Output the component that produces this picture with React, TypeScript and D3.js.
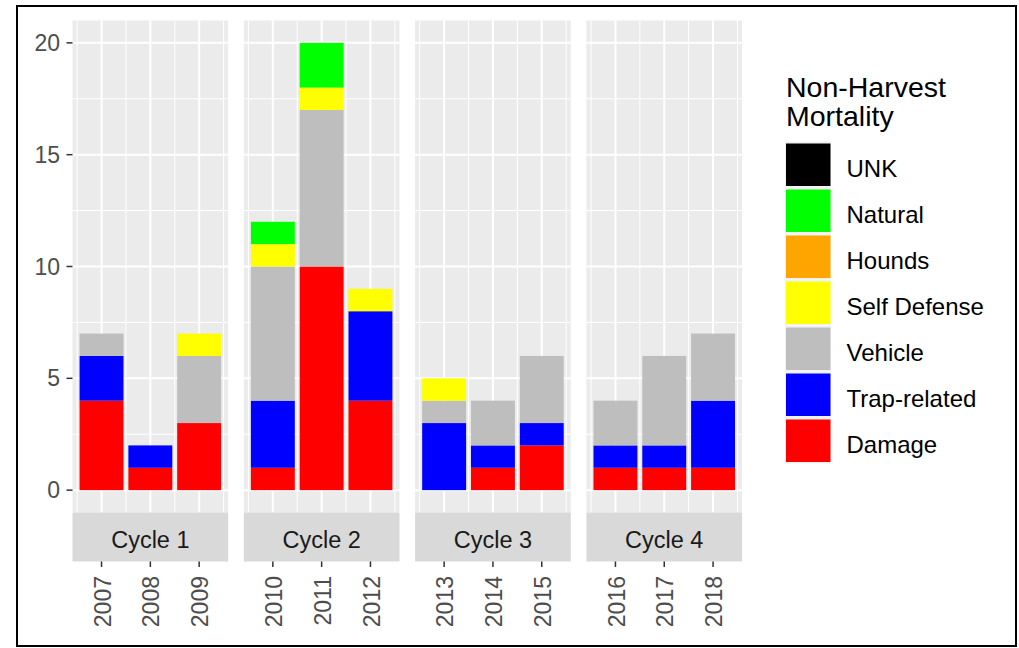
import React from "react";
import * as d3 from "d3";

const cycles = ["Cycle 1", "Cycle 2", "Cycle 3", "Cycle 4"];
const years = [2007, 2008, 2009, 2010, 2011, 2012, 2013, 2014, 2015, 2016, 2017, 2018];
const yearCycle = [0, 0, 0, 1, 1, 1, 2, 2, 2, 3, 3, 3];

// stack order: bottom first
const categories = ["Damage", "Trap-related", "Vehicle", "Self Defense", "Hounds", "Natural", "UNK"];
const colors = ["#FF0000", "#0000FF", "#BEBEBE", "#FFFF00", "#FFA500", "#00FF00", "#000000"];

const damage = [4, 1, 3, 1, 10, 4, 0, 1, 2, 1, 1, 1];
const trap = [2, 1, 0, 3, 0, 4, 3, 1, 1, 1, 1, 3];
const vehicle = [1, 0, 3, 6, 7, 0, 1, 2, 3, 2, 4, 3];
const selfDefense = [0, 0, 1, 1, 1, 1, 1, 0, 0, 0, 0, 0];
const hounds = [0, 0, 0, 0, 0, 0, 0, 0, 0, 0, 0, 0];
const natural = [0, 0, 0, 1, 2, 0, 0, 0, 0, 0, 0, 0];
const unk = [0, 0, 0, 0, 0, 0, 0, 0, 0, 0, 0, 0];

const yTicks = [0, 5, 10, 15, 20];
const yMinor = [2.5, 7.5, 12.5, 17.5];

const legendTitle = ["Non-Harvest", "Mortality"];

const FONT = "'Liberation Sans', Arial, sans-serif";

export default function App() {
  const seriesValues = [damage, trap, vehicle, selfDefense, hounds, natural, unk];
  const rows = years.map((yr, i) => {
    const r: any = { year: yr, cycle: yearCycle[i] };
    categories.forEach((c, k) => (r[c] = seriesValues[k][i]));
    return r;
  });
  const stacked = d3.stack().keys(categories)(rows);

  const panelTop = 20.5;
  const panelBottom = 512.5;
  const panelW = 155.7;
  const panelPitch = 171.3;
  const panelX0 = 72.5;
  const stripH = 49;

  const y = d3.scaleLinear().domain([-1, 21]).range([panelBottom, panelTop]);

  const panels = cycles.map((c, ci) => {
    const ys = years.filter((_, i) => yearCycle[i] === ci);
    const px = panelX0 + ci * panelPitch;
    const x = d3
      .scaleLinear()
      .domain([d3.min(ys)! - 0.595, d3.max(ys)! + 0.595])
      .range([px, px + panelW]);
    return { c, ci, ys, px, x };
  });

  const legendOrder = categories.map((c, i) => ({ c, col: colors[i] })).reverse();

  return (
    <svg
      width={1019}
      height={648}
      style={{ position: "absolute", left: 0, top: 0, background: "#fff" }}
      fontFamily={FONT}
    >
      <rect x={0} y={0} width={1019} height={648} fill="#fff" />
      {panels.map((p) => {
        const minors = [p.ys[0] - 0.5, ...p.ys.map((v) => v + 0.5)];
        return (
          <g key={p.c}>
            <rect x={p.px} y={panelTop} width={panelW} height={panelBottom - panelTop} fill="#EBEBEB" />
            {yMinor.map((t) => (
              <line key={"hm" + t} x1={p.px} x2={p.px + panelW} y1={y(t)} y2={y(t)} stroke="#fff" strokeWidth={1} />
            ))}
            {minors.map((t) => (
              <line key={"vm" + t} x1={p.x(t)} x2={p.x(t)} y1={panelTop} y2={panelBottom} stroke="#fff" strokeWidth={1} />
            ))}
            {yTicks.map((t) => (
              <line key={"h" + t} x1={p.px} x2={p.px + panelW} y1={y(t)} y2={y(t)} stroke="#fff" strokeWidth={2} />
            ))}
            {p.ys.map((t) => (
              <line key={"v" + t} x1={p.x(t)} x2={p.x(t)} y1={panelTop} y2={panelBottom} stroke="#fff" strokeWidth={2} />
            ))}
            {stacked.map((s, k) =>
              s
                .filter((d) => d.data.cycle === p.ci && d[1] - d[0] > 0)
                .map((d) => (
                  <rect
                    key={categories[k] + d.data.year}
                    x={p.x(d.data.year - 0.45)}
                    width={p.x(d.data.year + 0.45) - p.x(d.data.year - 0.45)}
                    y={y(d[1])}
                    height={y(d[0]) - y(d[1])}
                    fill={colors[k]}
                  />
                ))
            )}
            <rect x={p.px} y={panelBottom} width={panelW} height={stripH} fill="#D9D9D9" />
            <text
              x={p.px + panelW / 2}
              y={panelBottom + 35.5}
              textAnchor="middle"
              fontSize={23.5}
              fill="#1A1A1A"
            >
              {p.c}
            </text>
            {p.ys.map((t) => (
              <g key={"xt" + t}>
                <line
                  x1={p.x(t)}
                  x2={p.x(t)}
                  y1={panelBottom + stripH}
                  y2={panelBottom + stripH + 5.5}
                  stroke="#333333"
                  strokeWidth={1.5}
                />
                <text
                  transform={`translate(${p.x(t) + 1},${panelBottom + stripH + 14.5}) rotate(-90)`}
                  textAnchor="end"
                  dy="0.35em"
                  fontSize={23}
                  fill="#4D4D4D"
                >
                  {t}
                </text>
              </g>
            ))}
          </g>
        );
      })}
      {yTicks.map((t) => (
        <g key={"yt" + t}>
          <line x1={66.5} x2={72.5} y1={y(t)} y2={y(t)} stroke="#333333" strokeWidth={1.5} />
          <text x={60} y={y(t)} dy="0.35em" textAnchor="end" fontSize={23} fill="#4D4D4D">
            {t}
          </text>
        </g>
      ))}
      <g>
        {legendTitle.map((l, i) => (
          <text key={l} x={786} y={97 + i * 28.5} fontSize={28.5} fill="#000">
            {l}
          </text>
        ))}
        {legendOrder.map((d, i) => (
          <g key={d.c}>
            <rect x={785} y={141.5 + i * 46} width={46} height={46} fill="#F2F2F2" />
            <rect x={786} y={143.5 + i * 46} width={44.5} height={42.5} fill={d.col} />
            <text x={846.5} y={168.5 + i * 46} dy="0.35em" fontSize={24} fill="#000">
              {d.c}
            </text>
          </g>
        ))}
      </g>
      <rect x={17} y={6} width={999} height={640} fill="none" stroke="#000" strokeWidth={2} />
    </svg>
  );
}
